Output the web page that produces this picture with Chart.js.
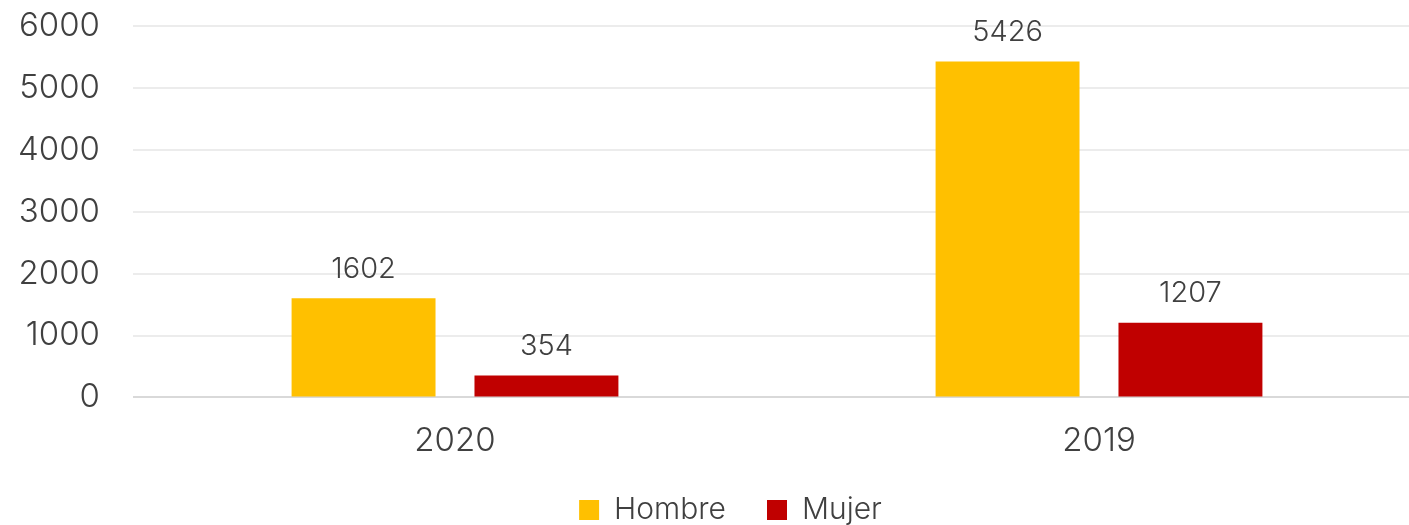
<!DOCTYPE html>
<html>
<head>
<meta charset="utf-8">
<script src="https://cdn.jsdelivr.net/npm/chart.js@4"></script>
<style>
  html, body { margin: 0; padding: 0; background: #fff; overflow: hidden; }
  #wrap { width: 1409px; height: 525px; overflow: hidden; }
</style>
</head>
<body>
<div id="wrap"><canvas id="grafico" width="1421" height="525"></canvas></div>
<script>
const anos = ['2020', '2019'];
const hombre = [1602, 5426];
const mujer = [354, 1207];
const ticksY = [0, 1000, 2000, 3000, 4000, 5000, 6000];

const fuente = "Inter, 'Open Sans', sans-serif";
const gris = '#404040';

// numeros encima de cada barra
const etiquetas = {
  id: 'etiquetas',
  afterDatasetsDraw(chart) {
    const ctx = chart.ctx;
    ctx.save();
    ctx.font = '300 29px ' + fuente;
    ctx.fillStyle = gris;
    ctx.textAlign = 'center';
    ctx.textBaseline = 'middle';
    chart.data.datasets.forEach((ds, i) => {
      chart.getDatasetMeta(i).data.forEach((bar, j) => {
        ctx.fillText(String(ds.data[j]), bar.x, bar.y - 29);
      });
    });
    ctx.restore();
  }
};

// mueve la leyenda un poco a la derecha (el canvas es mas ancho que la ventana)
const moverLeyenda = {
  id: 'moverLeyenda',
  afterLayout(chart) {
    if (chart.legend) {
      chart.legend.left += 20;
      chart.legend.right += 20;
    }
  }
};

new Chart(document.getElementById('grafico'), {
  type: 'bar',
  data: {
    labels: anos,
    datasets: [
      { label: 'Hombre', data: hombre, backgroundColor: '#FFC000' },
      { label: 'Mujer', data: mujer, backgroundColor: '#C00000' }
    ]
  },
  options: {
    responsive: false,
    animation: false,
    categoryPercentage: 0.568,
    barPercentage: 0.787,
    layout: { padding: { top: 26, left: 0, right: 0, bottom: -10 } },
    scales: {
      x: {
        grid: { display: false },
        border: { display: false },
        afterFit(s) { s.height -= 23; },
        ticks: { color: gris, font: { family: fuente, size: 33, weight: '300' }, padding: 16 }
      },
      y: {
        min: 0,
        max: 6000,
        afterBuildTicks(s) { s.ticks = ticksY.map(v => ({ value: v })); },
        afterFit(s) { s.width = 133; s.paddingTop = 0; s.paddingBottom = 0; },
        border: { display: false },
        grid: {
          drawTicks: false,
          lineWidth: 2,
          color: c => c.tick && c.tick.value === 0 ? '#d9d9d9' : '#ececec'
        },
        ticks: {
          color: gris,
          font: { family: fuente, size: 33, weight: '300' },
          padding: 33,
          callback: v => String(v)
        }
      }
    },
    plugins: {
      legend: {
        position: 'bottom',
        labels: {
          boxWidth: 20,
          boxHeight: 20,
          padding: 41,
          color: gris,
          font: { family: fuente, size: 30, weight: '300' }
        }
      },
      tooltip: { enabled: false }
    }
  },
  plugins: [etiquetas, moverLeyenda]
});
</script>
</body>
</html>
